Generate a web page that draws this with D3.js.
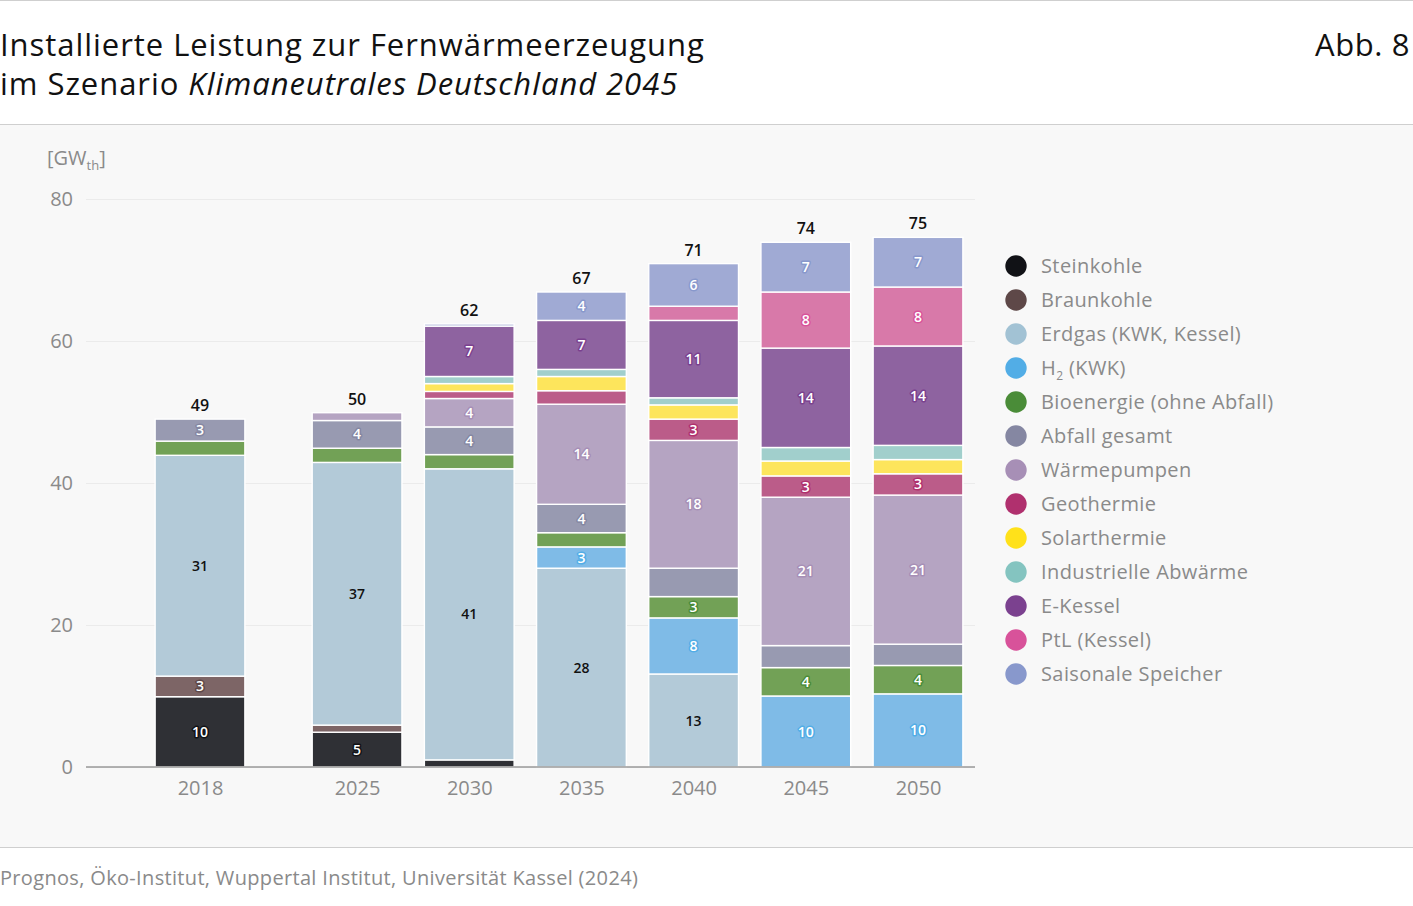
<!DOCTYPE html>
<html>
<head>
<meta charset="utf-8">
<script src="https://cdn.jsdelivr.net/npm/d3@7"></script>
<style>
  html, body { margin: 0; padding: 0; background: #ffffff; }
  svg { display: block; font-family: "Open Sans", Roboto, sans-serif; }
</style>
</head>
<body>
<svg id="chart" width="1413" height="906"></svg>
<script>
// ---------- DATA ----------
const years = [2018, 2025, 2030, 2035, 2040, 2045, 2050];
const seriesNames = [
  "Steinkohle", "Braunkohle", "Erdgas (KWK, Kessel)", "H2 (KWK)",
  "Bioenergie (ohne Abfall)", "Abfall gesamt", "Wärmepumpen", "Geothermie",
  "Solarthermie", "Industrielle Abwärme", "E-Kessel", "PtL (Kessel)", "Saisonale Speicher"
];
const steinkohle = [9.9, 4.9, 1.0, 0, 0, 0, 0];
const braunkohle = [2.9, 1.0, 0, 0, 0, 0, 0];
const erdgas     = [31.1, 37.0, 41.0, 28.0, 13.1, 0, 0];
const h2         = [0, 0, 0, 3.0, 7.9, 10.0, 10.3];
const bioenergie = [2.0, 2.0, 2.0, 2.0, 3.0, 4.0, 4.0];
const abfall     = [3.1, 3.9, 3.9, 4.0, 4.0, 3.1, 3.0];
const waermepumpen = [0, 1.1, 4.0, 14.1, 18.0, 20.9, 21.0];
const geothermie = [0, 0, 1.0, 1.9, 3.0, 3.0, 3.0];
const solarthermie = [0, 0, 1.1, 2.0, 2.0, 2.1, 2.0];
const abwaerme   = [0, 0, 1.0, 1.0, 1.0, 1.9, 2.0];
const eKessel    = [0, 0, 7.1, 6.9, 10.9, 14.0, 14.0];
const ptl        = [0, 0, 0, 0, 2.0, 7.9, 8.3];
const speicher   = [0, 0, 0.3, 4.0, 6.0, 7.0, 7.0];
const seriesValues = [steinkohle, braunkohle, erdgas, h2, bioenergie, abfall,
  waermepumpen, geothermie, solarthermie, abwaerme, eKessel, ptl, speicher];
const yTicks = [0, 20, 40, 60, 80];
// segment labels that are not shown in the original
const hiddenLabels = [["Abfall gesamt", 2040], ["Abfall gesamt", 2045], ["Abfall gesamt", 2050]];

// ---------- STYLE ----------
const legendColors = ["#111216", "#5e4848", "#a2c2d4", "#52ade6", "#4a8c38", "#8587a2",
  "#a78fb6", "#b0306e", "#ffe11a", "#84c4c0", "#7b418f", "#d8529a", "#8898cc"];
const barColors = ["#2f3035", "#7d6566", "#b3cad8", "#7fbbe7", "#72a156", "#989ab1",
  "#b5a4c2", "#bb5c89", "#fde55c", "#a1cfcc", "#8e63a0", "#d879a9", "#a0aad4"];
const labelFill = seriesNames.map(n => n.startsWith("Erdgas") ? "#111" : "#fff");
const TXT = "Open Sans";

// ---------- BUILD ----------
const table = years.map((yr, i) => {
  const row = { year: yr };
  seriesNames.forEach((n, k) => row[n] = seriesValues[k][i]);
  return row;
});
const stack = d3.stack().keys(seriesNames)(table);

const svg = d3.select("#chart");
const W = 1413, H = 906;

// backgrounds & separators
svg.append("rect").attr("x", 0).attr("y", 0).attr("width", W).attr("height", H).attr("fill", "#fff");
svg.append("rect").attr("x", 0).attr("y", 124).attr("width", W).attr("height", 723).attr("fill", "#f8f8f8");
[0.5, 124.5, 847.5].forEach(y => {
  svg.append("line").attr("x1", 0).attr("x2", W).attr("y1", y).attr("y2", y)
    .attr("stroke", "#cfcfcf").attr("stroke-width", 1.2);
});

// title
const title = svg.append("text").attr("x", 0).attr("y", 56)
  .attr("font-size", 31).attr("fill", "#111").attr("font-family", TXT).attr("letter-spacing", 0.95);
title.append("tspan").text("Installierte Leistung zur Fernwärmeerzeugung");
const t2 = svg.append("text").attr("x", 0).attr("y", 95)
  .attr("font-size", 31).attr("fill", "#111").attr("font-family", TXT).attr("letter-spacing", 0.95);
t2.append("tspan").text("im Szenario ");
t2.append("tspan").attr("font-style", "italic").text("Klimaneutrales Deutschland 2045");
svg.append("text").attr("x", 1410).attr("y", 56).attr("text-anchor", "end")
  .attr("font-size", 31).attr("fill", "#111").attr("font-family", TXT).attr("letter-spacing", 0.6).text("Abb. 8");

// scales
const x = d3.scaleLinear().domain([2018, 2050]).range([200, 918]);
const y = d3.scaleLinear().domain([0, 80]).range([767, 199]);
const halfBar = (x(2022) - x(2018)) / 2;
const plotLeft = 86, plotRight = 975;

// y unit label
const yl = svg.append("text").attr("x", 47).attr("y", 165).attr("font-size", 20)
  .attr("fill", "#8a8a8a").attr("font-family", TXT);
yl.append("tspan").text("[GW");
yl.append("tspan").attr("font-size", 13).attr("dy", 5).text("th");
yl.append("tspan").attr("dy", -5).text("]");

// gridlines & y ticks
const yAxis = d3.axisLeft(y).tickValues(yTicks).tickSize(-(plotRight - plotLeft)).tickPadding(13);
const gy = svg.append("g").attr("transform", `translate(${plotLeft},0)`).call(yAxis);
gy.select(".domain").remove();
gy.selectAll(".tick line").attr("stroke", "#ebebeb").attr("stroke-width", 1);
gy.selectAll(".tick text").attr("font-size", 20).attr("fill", "#8a8a8a")
  .attr("font-family", TXT).attr("x", -13);

// bars
const gBars = svg.append("g");
stack.forEach((layer, k) => {
  gBars.selectAll(null).data(layer.filter(d => d[1] - d[0] > 0)).enter().append("rect")
    .attr("x", d => x(d.data.year) - halfBar)
    .attr("width", halfBar * 2)
    .attr("y", d => y(d[1]))
    .attr("height", d => y(d[0]) - y(d[1]))
    .attr("fill", barColors[k])
    .attr("stroke", "#ffffff").attr("stroke-width", 1.4);
});

// zero axis line
svg.append("line").attr("x1", plotLeft).attr("x2", plotRight)
  .attr("y1", y(0)).attr("y2", y(0)).attr("stroke", "#9a9a9a").attr("stroke-width", 1.6);

// x axis labels
const xAxis = d3.axisBottom(x).tickValues(years).tickFormat(d3.format("d")).tickSize(0).tickPadding(14);
const gx = svg.append("g").attr("transform", `translate(0,${y(0)})`).call(xAxis);
gx.select(".domain").remove();
gx.selectAll(".tick text").attr("font-size", 20).attr("fill", "#8a8a8a").attr("font-family", TXT);

// segment labels
const isHidden = (name, yr) => hiddenLabels.some(h => h[0] === name && h[1] === yr);
const gLab = svg.append("g").attr("font-size", 14).attr("font-family", TXT).attr("font-weight", 600)
  .attr("text-anchor", "middle");
stack.forEach((layer, k) => {
  const data = layer.filter(d => (d[1] - d[0]) >= 2.5 && !isHidden(seriesNames[k], d.data.year));
  gLab.selectAll(null).data(data).enter().append("text")
    .attr("x", d => x(d.data.year))
    .attr("y", d => y((d[0] + d[1]) / 2))
    .attr("dy", "0.36em")
    .attr("fill", labelFill[k])
    .attr("stroke", seriesNames[k].startsWith("Erdgas") ? barColors[k] : legendColors[k])
    .attr("stroke-width", 3).attr("stroke-linejoin", "round")
    .attr("paint-order", "stroke")
    .text(d => Math.round(d[1] - d[0]));
});

// totals
const totals = table.map(r => seriesNames.reduce((s, n) => s + r[n], 0));
svg.append("g").selectAll(null).data(years).enter().append("text")
  .attr("x", d => x(d))
  .attr("y", (d, i) => y(totals[i]) - 8)
  .attr("text-anchor", "middle").attr("font-size", 16).attr("font-weight", 600)
  .attr("fill", "#111").attr("font-family", TXT)
  .text((d, i) => Math.round(totals[i]));

// legend
const gLeg = svg.append("g");
const legY = d3.scalePoint().domain(seriesNames).range([266, 266 + 34 * 12]);
seriesNames.forEach((n, k) => {
  gLeg.append("circle").attr("cx", 1016).attr("cy", legY(n)).attr("r", 10.7).attr("fill", legendColors[k]);
  const t = gLeg.append("text").attr("x", 1041).attr("y", legY(n)).attr("dy", "0.35em")
    .attr("font-size", 20).attr("fill", "#8a8a8a").attr("font-family", TXT).attr("letter-spacing", 0.4);
  if (n === "H2 (KWK)") {
    t.append("tspan").text("H");
    t.append("tspan").attr("font-size", 12).attr("dy", 5).text("2");
    t.append("tspan").attr("dy", -5).text(" (KWK)");
  } else {
    t.text(n);
  }
});

// source
svg.append("text").attr("x", 0).attr("y", 885).attr("font-size", 20).attr("fill", "#8a8a8a")
  .attr("font-family", TXT).attr("letter-spacing", 0.33)
  .text("Prognos, Öko-Institut, Wuppertal Institut, Universität Kassel (2024)");
</script>
</body>
</html>
